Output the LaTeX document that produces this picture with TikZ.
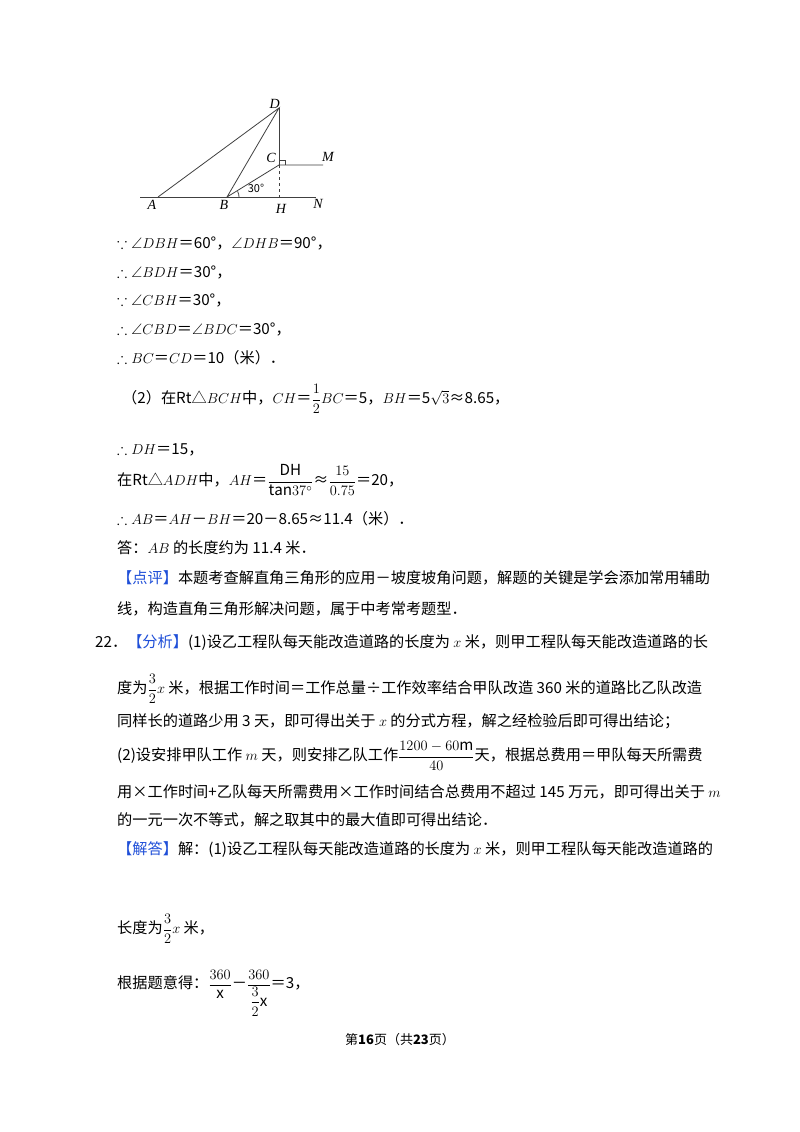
\documentclass[tikz,border=0pt]{standalone}
\usepackage{amsmath,amssymb}
\usepackage{fontspec}
\setmainfont{Noto Sans CJK SC}
\newfontfamily\lat{Liberation Serif}
\definecolor{hl}{HTML}{1F4FD8}
\begin{document}
\begin{tikzpicture}[x=1pt,y=-1pt,font=\fontsize{15.2}{18}\selectfont,
 t/.style={anchor=west,inner sep=0pt},
 lab/.style={font=\lat\itshape\fontsize{14}{16}\selectfont,inner sep=1pt},
 ln/.style={line width=0.8pt,black!75}]
\useasboundingbox (0,0) rectangle (800,1132);
\fill[white] (0,0) rectangle (800,1132);
% figure
\coordinate (A) at (158,197); \coordinate (B) at (227,197); \coordinate (H) at (279,197);
\coordinate (C) at (279,165); \coordinate (D) at (279,108); \coordinate (M) at (323,165);
\coordinate (L) at (140,197); \coordinate (N) at (316,197);
\draw[ln] (L)--(N); \draw[ln] (A)--(D)--(B)--(C)--(M); \draw[ln] (D)--(C);
\draw[ln,dashed] (C)--(H);
\draw[ln] (279,160)--(285,160)--(285,165);
\draw[ln] (239,197) arc (0:-28:12);
\node[lab,anchor=south east] (lD) at (281,110) {D};
\node[lab,anchor=east] (lC) at (277,158) {C};
\node[lab] (lM) at (328,157) {M};
\node[lab] (lA) at (152,205) {A};
\node[lab] (lB) at (224,205) {B};
\node[lab] (lH) at (281,209) {H};
\node[lab] (lN) at (318,204) {N};
\node[font=\fontsize{11}{13}\selectfont,inner sep=0pt] (l30) at (256,188) {30°};
% text
\node[t] (t1) at (117,243) {$\because\angle DBH$＝60°，$\angle DHB$＝90°，};
\node[t] (t2) at (117,272) {$\therefore\angle BDH$＝30°，};
\node[t] (t3) at (117,300) {$\because\angle CBH$＝30°，};
\node[t] (t4) at (117,329) {$\therefore\angle CBD$＝$\angle BDC$＝30°，};
\node[t] (t5) at (117,358) {$\therefore BC$＝$CD$＝10（米）．};
\node[t] (t6) at (122,399) {（2）在Rt△$BCH$中，$CH$＝$\dfrac{1}{2}BC$＝5，$BH$＝5$\sqrt{3}$≈8.65，};
\node[t] (t7) at (117,450) {$\therefore DH$＝15，};
\node[t] (t8) at (117,480) {在Rt△$ADH$中，$AH$＝$\dfrac{\mathrm{DH}}{\mathrm{tan}37^\circ}$≈$\dfrac{15}{0.75}$＝20，};
\node[t] (t9) at (117,519) {$\therefore AB$＝$AH$－$BH$＝20－8.65≈11.4（米）．};
\node[t] (t10) at (117,548) {答：$AB$ 的长度约为 11.4 米．};
\node[t] (t11) at (117,578) {{\color{hl}【点评】}本题考查解直角三角形的应用－坡度坡角问题，解题的关键是学会添加常用辅助};
\node[t] (t12) at (117,609) {线，构造直角三角形解决问题，属于中考常考题型．};
\node[t] (t13) at (95,643) {22．{\color{hl}【分析】}(1)设乙工程队每天能改造道路的长度为 $x$ 米，则甲工程队每天能改造道路的长};
\node[t] (t14) at (117,689) {度为$\dfrac{3}{2}x$ 米，根据工作时间＝工作总量÷工作效率结合甲队改造 360 米的道路比乙队改造};
\node[t] (t15) at (117,721) {同样长的道路少用 3 天，即可得出关于 $x$ 的分式方程，解之经检验后即可得出结论；};
\node[t] (t16) at (117,756) {(2)设安排甲队工作 $m$ 天，则安排乙队工作$\dfrac{1200-60\mathrm{m}}{40}$天，根据总费用＝甲队每天所需费};
\node[t] (t17) at (117,792) {用×工作时间+乙队每天所需费用×工作时间结合总费用不超过 145 万元，即可得出关于 $m$};
\node[t] (t18) at (117,820) {的一元一次不等式，解之取其中的最大值即可得出结论．};
\node[t] (t19) at (117,850) {{\color{hl}【解答】}解：(1)设乙工程队每天能改造道路的长度为 $x$ 米，则甲工程队每天能改造道路的};
\node[t] (t20) at (117,929) {长度为$\dfrac{3}{2}x$ 米，};
\node[t] (t21) at (117,993) {根据题意得：$\dfrac{360}{\mathrm{x}}$－$\dfrac{360}{\dfrac{3}{2}\mathrm{x}}$＝3，};
\node[font=\fontsize{13}{15}\selectfont,inner sep=0pt] (ft) at (400,1040) {第\textbf{16}页（共\textbf{23}页）};
\end{tikzpicture}
\end{document}
